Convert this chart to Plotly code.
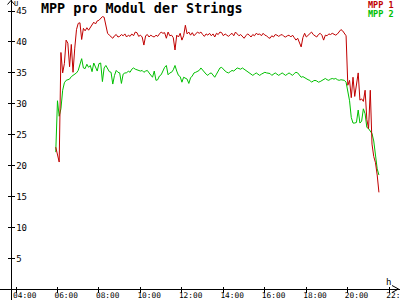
import plotly.graph_objects as go
import pandas as pd

# ---- data ----
day = "2013-06-21"
start_time = "05:55"
mpp1 = [
    23.0, 22.0, 20.6, 38.3, 35.0, 36.5, 40.3, 39.8, 36.0, 39.6,
    35.1, 39.0, 42.0, 43.0, 43.1, 40.4, 42.2, 41.8, 42.3, 41.9,
    42.3, 42.8, 43.2, 42.9, 43.4, 43.5, 43.8, 44.1, 44.0, 42.5,
    41.4, 41.1, 40.9, 40.6, 41.0, 41.2, 40.8, 40.9, 41.2, 41.0,
    41.3, 40.8, 41.1, 40.9, 41.3, 41.0, 41.6, 41.5, 40.9, 41.1,
    40.8, 39.5, 41.0, 41.2, 40.8, 41.1, 40.9, 40.8, 41.1, 40.9,
    41.3, 41.6, 41.4, 41.5, 40.6, 41.6, 41.0, 41.1, 40.7, 38.7,
    41.1, 40.8, 41.4, 40.3, 41.0, 42.7, 41.3, 41.6, 41.1, 41.5,
    41.0, 41.3, 41.6, 41.4, 41.6, 41.2, 40.9, 41.3, 41.1, 41.4,
    41.0, 41.3, 40.8, 41.4, 41.2, 41.6, 41.5, 41.0, 41.3, 41.1,
    40.9, 41.2, 41.4, 41.0, 41.6, 41.3, 41.0, 41.2, 40.9, 40.6,
    41.0, 41.3, 41.1, 40.8, 41.2, 41.0, 41.4, 41.2, 41.3, 41.0,
    41.4, 41.1, 41.0, 40.7, 40.6, 41.0, 40.8, 41.2, 41.1, 40.9,
    41.1, 41.2, 40.9, 40.8, 41.0, 41.1, 40.8, 41.1, 40.7, 40.3,
    40.6, 39.8, 39.2, 40.7, 41.4, 40.8, 41.1, 41.3, 41.6, 41.2,
    41.0, 40.8, 41.2, 41.4, 41.1, 40.3, 41.1, 41.0, 41.3, 41.2,
    41.4, 41.2, 41.1, 41.3, 41.6, 42.0, 41.8, 41.3, 41.0, 33.0,
    33.8, 31.0, 34.3, 31.2, 33.3, 35.0, 30.6, 30.8, 30.4, 32.2,
    27.5, 26.0, 32.2, 23.5, 21.5, 20.5, 18.5, 15.7,
]
mpp2 = [
    22.2, 30.5, 28.0, 29.2, 32.2, 33.4, 33.8, 33.9, 34.0, 34.4,
    34.6, 34.8, 35.0, 35.4, 36.5, 37.3, 35.8, 35.7, 36.4, 35.9,
    36.2, 35.2, 36.6, 35.8, 35.3, 36.5, 36.6, 33.6, 35.8, 36.2,
    35.6, 35.2, 35.1, 33.2, 34.6, 35.4, 35.1, 35.0, 33.3, 34.8,
    35.0, 35.0, 35.3, 35.1, 35.6, 35.8, 35.6, 35.5, 35.4, 35.3,
    35.4, 35.1, 35.3, 35.4, 35.0, 34.6, 34.3, 35.3, 33.8, 33.9,
    34.5, 34.7, 35.3, 35.9, 36.2, 34.7, 35.0, 35.1, 35.5, 36.2,
    35.3, 34.6, 34.4, 33.5, 34.3, 34.2, 34.0, 33.3, 34.2, 34.5,
    35.0, 35.1, 35.2, 35.4, 35.8, 35.4, 35.1, 34.8, 34.6, 34.9,
    35.0, 34.7, 34.3, 34.8, 35.2, 35.8, 35.9, 35.5, 35.3, 35.1,
    35.0, 35.2, 35.4, 35.3, 35.6, 35.8, 35.7, 35.6, 35.8, 35.6,
    35.4, 35.2, 35.0, 34.8, 34.6, 34.8, 35.0, 34.8, 34.6, 34.8,
    35.0, 35.1, 35.0, 35.0, 34.9, 34.6, 34.8, 35.0, 34.8, 34.6,
    34.8, 35.0, 34.8, 34.6, 34.8, 35.0, 34.8, 34.6, 34.9, 35.1,
    35.0, 34.6, 34.3, 34.4, 34.2, 34.1, 33.9, 33.8, 33.5, 33.7,
    33.8, 33.7, 33.5, 33.6, 33.8, 34.0, 34.1, 33.9, 33.8, 34.0,
    34.1, 34.0, 34.1, 33.9, 33.8, 33.9, 33.9, 33.8, 33.5, 32.2,
    30.5, 27.8, 26.9, 26.9, 27.0, 29.0, 26.9, 27.2, 29.2, 28.4,
    26.2, 26.0, 25.6, 25.2, 24.0, 22.0, 19.5, 18.5,
]
series_names = ["MPP 1", "MPP 2"]
x_tick_labels = ["04:00", "06:00", "08:00", "10:00", "12:00",
                 "14:00", "16:00", "18:00", "20:00", "22:00"]
y_tick_values = [5, 10, 15, 20, 25, 30, 35, 40, 45]
title_text = "MPP pro Modul der Strings"
x_range = [f"{day} 03:13:43", f"{day} 22:30:58"]
y_range = [-1.69, 46.78]

# ---- styling ----
RED = "#c00000"
GREEN = "#00c000"
MONO = "DejaVu Sans Mono"
W, H = 400, 300


def px(x):
    return x / W


def py(y):
    return 1 - y / H


times = pd.date_range(f"{day} {start_time}", periods=len(mpp1), freq="5min")
tick_vals = [f"{day} {t}" for t in x_tick_labels]

fig = go.Figure()
fig.add_trace(go.Scatter(x=times, y=mpp2, mode="lines", name=series_names[1],
                         line=dict(color=GREEN, width=1)))
fig.add_trace(go.Scatter(x=times, y=mpp1, mode="lines", name=series_names[0],
                         line=dict(color=RED, width=1)))
fig.add_trace(go.Scatter(x=[], y=[], xaxis="x2", yaxis="y2", showlegend=False))

AXY = py(289)
AXX = px(11)

fig.update_layout(
    width=W, height=H,
    margin=dict(l=0, r=0, t=0, b=0, pad=0, autoexpand=False),
    paper_bgcolor="white", plot_bgcolor="white",
    showlegend=False,
    xaxis=dict(type="date", range=x_range, domain=[0, 1], anchor="free", position=AXY,
               automargin=False,
               showline=True, linecolor="black", linewidth=1,
               ticks="outside", ticklen=3, tickcolor="black", tickwidth=1,
               tickvals=tick_vals, ticktext=x_tick_labels,
               ticklabelposition="outside right", ticklabelshift=-4, ticklabelstandoff=-1,
               ticklabeloverflow="allow",
               tickfont=dict(family=MONO, size=7.8, color="black"),
               showgrid=False, zeroline=False),
    xaxis2=dict(type="date", range=x_range, overlaying="x", anchor="free", position=AXY,
                automargin=False,
                showline=False, ticks="inside", ticklen=2, tickcolor="black", tickwidth=1,
                tickvals=tick_vals, showticklabels=False, showgrid=False, zeroline=False),
    yaxis=dict(range=y_range, domain=[0, 1], anchor="free", position=AXX,
               automargin=False,
               showline=True, linecolor="black", linewidth=1,
               ticks="inside", ticklen=3, tickcolor="black", tickwidth=1,
               tickvals=y_tick_values, ticklabelposition="inside",
               ticklabeloverflow="allow",
               tickfont=dict(family=MONO, size=9, color="black"),
               showgrid=False, zeroline=False),
    yaxis2=dict(range=y_range, overlaying="y", anchor="free", position=AXX,
                automargin=False,
                showline=False, ticks="outside", ticklen=3, tickcolor="black", tickwidth=1,
                tickvals=y_tick_values, showticklabels=False, showgrid=False, zeroline=False),
)

# axis arrows
fig.add_shape(type="path", xref="paper", yref="paper",
              path=f"M {px(392)},{py(285.5)} L {px(398.5)},{py(289)} L {px(392)},{py(292.5)}",
              line=dict(color="black", width=1))
fig.add_shape(type="path", xref="paper", yref="paper",
              path=f"M {px(7.5)},{py(4.5)} L {px(11)},{py(0.5)} L {px(14.5)},{py(4.5)}",
              line=dict(color="black", width=1))

# texts
fig.add_annotation(text=title_text, xref="paper", yref="paper", x=px(39), y=py(8.5),
                   xanchor="left", yanchor="middle", showarrow=False,
                   font=dict(family=MONO, size=13.4, color="black", weight="bold"))
fig.add_annotation(text="U", xref="paper", yref="paper", x=px(15.5), y=py(-0.5),
                   xanchor="center", yanchor="top", showarrow=False, borderpad=0,
                   font=dict(family=MONO, size=7, color="black"))
fig.add_annotation(text="h", xref="paper", yref="paper", x=px(388), y=py(282),
                   xanchor="center", yanchor="middle", showarrow=False,
                   font=dict(family=MONO, size=9, color="black"))
fig.add_annotation(text=series_names[0], xref="paper", yref="paper", x=px(395), y=py(11),
                   xanchor="right", yanchor="bottom", showarrow=False, borderpad=0,
                   font=dict(family=MONO, size=8.5, color=RED, weight="bold"))
fig.add_annotation(text=series_names[1], xref="paper", yref="paper", x=px(395), y=py(8.5),
                   xanchor="right", yanchor="top", showarrow=False, borderpad=0,
                   font=dict(family=MONO, size=8.5, color=GREEN, weight="bold"))

fig.write_html("out.html")
